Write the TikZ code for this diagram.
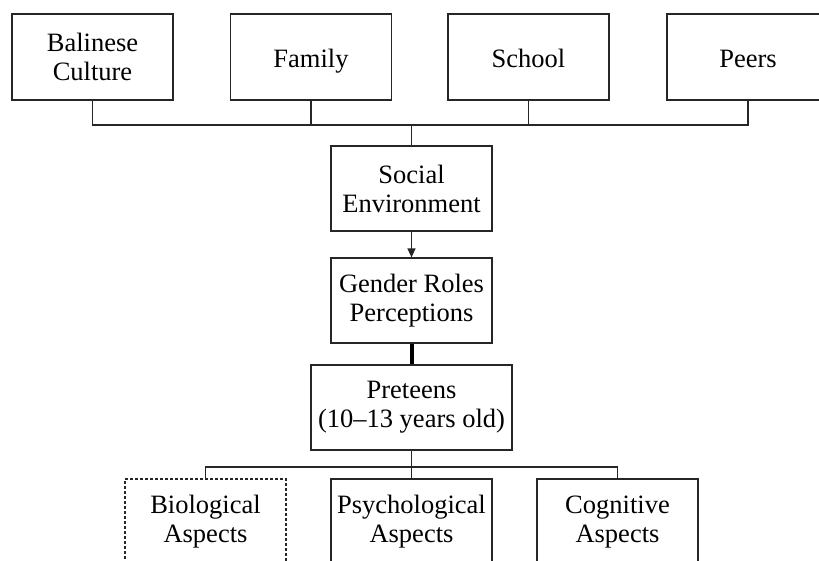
\documentclass[tikz,border=0pt]{standalone}
\usepackage{fontspec}
\setmainfont{Liberation Serif}
\usepackage{tikz}
\usetikzlibrary{arrows.meta, positioning}

\begin{document}
\begin{tikzpicture}[
    x=1pt, y=-1pt,
    factorbox/.style = {rectangle, draw=black!85, line width=1.2pt, minimum width=161pt, minimum height=86pt,
                        inner sep=0pt, align=center, font=\fontsize{26.5}{29}\selectfont},
    oneline/.style = {text height=24pt, text depth=4pt},
    wire/.style = {draw=black!85, line width=1.2pt}
]

\useasboundingbox (0,0) rectangle (819,560);
\clip (0,0) rectangle (819,560);

\node [factorbox] (bali)   at (92.5, 57)  {Balinese\\Culture};
\node [factorbox, oneline] (family) at (311, 57)   {Family};
\node [factorbox, oneline] (school) at (528.5, 57) {School};
\node [factorbox, oneline, minimum width=162pt] (peers) at (748, 57) {Peers};

\node [factorbox, minimum height=85pt] (social)  at (411.5, 188.5) {Social\\Environment};
\node [factorbox, minimum height=85pt] (gender)  at (411.5, 300.5) {Gender Roles\\Perceptions};
\node [factorbox, minimum height=85pt, minimum width=201pt] (preteen) at (411.5, 407.5) {Preteens\\(10--13 years old)};

\node [factorbox, dashed, dash pattern=on 3pt off 2pt] (bio) at (205.5, 522) {Biological\\Aspects};
\node [factorbox] (psych) at (411.5, 522) {Psychological\\Aspects};
\node [factorbox] (cog)   at (617.5, 522) {Cognitive\\Aspects};

\coordinate (topbus) at (411.5, 125);
\coordinate (botbus) at (411.5, 467);

\draw[wire] (bali.south) |- (topbus) -| (peers.south);
\draw[wire] (family.south) -- (family.south |- topbus);
\draw[wire] (school.south) -- (school.south |- topbus);
\draw[wire] (topbus) -- (social.north);

\draw[wire, -{Triangle[length=9pt, width=8pt]}] (social) -- (gender);
\draw[line width=4pt] (gender) -- (preteen);

\draw[wire] (bio.north) |- (botbus) -| (cog.north);
\draw[wire] (preteen.south) -- (psych.north);

\end{tikzpicture}
\end{document}
